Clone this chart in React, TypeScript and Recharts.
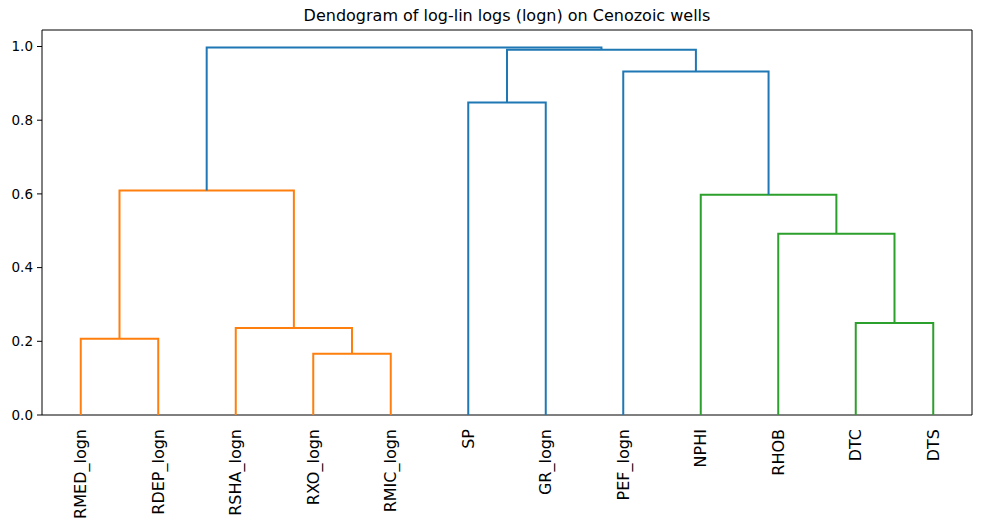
import React from 'react';
import {
  ComposedChart,
  Line,
  XAxis,
  YAxis,
  ReferenceArea,
} from 'recharts';

// leaf order as drawn by the dendrogram
const leafLabels = [
  'RMED_logn', 'RDEP_logn', 'RSHA_logn', 'RXO_logn', 'RMIC_logn',
  'SP', 'GR_logn', 'PEF_logn', 'NPHI', 'RHOB', 'DTC', 'DTS',
];
const leafTicks = [5, 15, 25, 35, 45, 55, 65, 75, 85, 95, 105, 115];

// scipy-style link coordinates (x along leaves, y = distance)
const icoord = [
  [5, 5, 15, 15],
  [35, 35, 45, 45],
  [25, 25, 40, 40],
  [10, 10, 32.5, 32.5],
  [55, 55, 65, 65],
  [105, 105, 115, 115],
  [95, 95, 110, 110],
  [85, 85, 102.5, 102.5],
  [75, 75, 93.75, 93.75],
  [60, 60, 84.375, 84.375],
  [21.25, 21.25, 72.1875, 72.1875],
];
const dcoord = [
  [0, 0.207, 0.207, 0],
  [0, 0.166, 0.166, 0],
  [0, 0.236, 0.236, 0.166],
  [0.207, 0.609, 0.609, 0.236],
  [0, 0.848, 0.848, 0],
  [0, 0.25, 0.25, 0],
  [0, 0.492, 0.492, 0.25],
  [0, 0.598, 0.598, 0.492],
  [0, 0.932, 0.932, 0.598],
  [0.848, 0.991, 0.991, 0.932],
  [0.609, 0.997, 0.997, 0.991],
];
const linkColors = [
  '#ff7f0e', '#ff7f0e', '#ff7f0e', '#ff7f0e',
  '#1f77b4',
  '#2ca02c', '#2ca02c', '#2ca02c',
  '#1f77b4', '#1f77b4', '#1f77b4',
];
const yTicks = [0, 0.2, 0.4, 0.6, 0.8, 1.0];

const Y_MAX = 1.0448;
const FONT = '"DejaVu Sans", sans-serif';

const links = icoord.map((xs, i) =>
  xs.map((x, j) => ({ x, y: dcoord[i][j] }))
);

const LeafTick = (props: any) => {
  const { x, y, payload } = props;
  const idx = leafTicks.indexOf(payload.value);
  const ty = y + 6;
  return (
    <text
      x={x}
      y={ty}
      transform={`rotate(-90, ${x}, ${ty})`}
      textAnchor="end"
      dominantBaseline="central"
      fontSize={16}
      fontFamily={FONT}
      fill="#000"
    >
      {leafLabels[idx]}
    </text>
  );
};

const App: React.FC = () => {
  return (
    <div style={{ position: 'absolute', left: 0, top: 0, width: 981, height: 528, background: '#fff' }}>
      <div
        style={{
          position: 'absolute',
          top: 6,
          left: 42,
          width: 930,
          textAlign: 'center',
          fontFamily: FONT,
          fontSize: 16,
          color: '#000',
        }}
      >
        Dendogram of log-lin logs (logn) on Cenozoic wells
      </div>
      <ComposedChart
        width={981}
        height={528}
        margin={{ top: 30, right: 9, bottom: 0, left: 0 }}
      >
        <XAxis
          dataKey="x"
          type="number"
          domain={[0, 120]}
          ticks={leafTicks}
          interval={0}
          allowDataOverflow
          tickLine={false}
          axisLine={false}
          height={113}
          tick={<LeafTick />}
        />
        <YAxis
          type="number"
          domain={[0, Y_MAX]}
          ticks={yTicks}
          interval={0}
          allowDataOverflow
          width={42}
          tickSize={5}
          tickMargin={4}
          axisLine={false}
          tickLine={{ stroke: '#000' }}
          tickFormatter={(v: number) => v.toFixed(1)}
          tick={{ fill: '#000', fontSize: 13.5, fontFamily: FONT }}
        />
        {links.map((pts, i) => (
          <Line
            key={i}
            data={pts}
            dataKey="y"
            type="linear"
            stroke={linkColors[i]}
            strokeWidth={2}
            dot={false}
            activeDot={false}
            isAnimationActive={false}
            legendType="none"
          />
        ))}
        <ReferenceArea
          x1={0}
          x2={120}
          y1={0}
          y2={Y_MAX}
          fill="none"
          stroke="#000"
          strokeWidth={1}
          ifOverflow="visible"
        />
      </ComposedChart>
    </div>
  );
};

export default App;
